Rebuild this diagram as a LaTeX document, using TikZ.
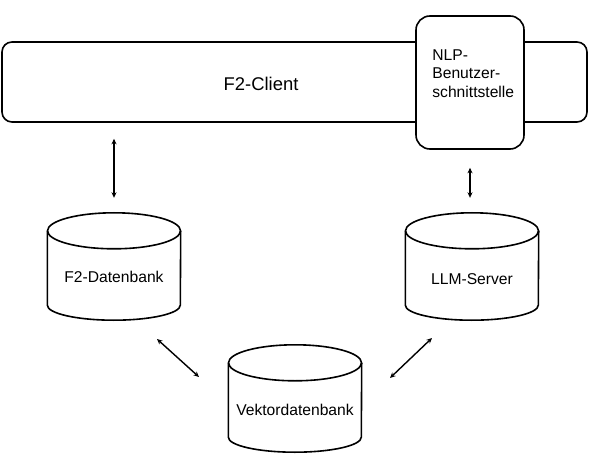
\documentclass[tikz,border=0pt]{standalone}
\usepackage{fontspec}
\setmainfont{Liberation Sans}
\usetikzlibrary{arrows.meta, positioning, calc}

\begin{document}
\begin{tikzpicture}[
    x=1bp, y=-1bp,
    every node/.style={font=\fontsize{15.7}{18.5}\selectfont},
    box/.style={draw, line width=1.6bp, fill=white},
    dbase/.style={minimum width=133bp, minimum height=107bp, inner sep=0pt},
    cyl/.style={line width=1.6bp},
    biarrow/.style={{Stealth[length=5.5bp,width=5bp]}-{Stealth[length=5.5bp,width=5bp]}, line width=1.4bp}
]
\useasboundingbox (0,0) rectangle (592,457);

% === NODES ===

% Client bar with the NLP box on top of it
\node[box, rounded corners=10bp, minimum width=585bp, minimum height=80bp,
      label={[font=\fontsize{18.5}{22}\selectfont, xshift=-33.5bp, yshift=-1.5bp]center:F2-Client}]
      (client) at (294.5,82) {};
\node[box, rounded corners=14bp, minimum width=108bp, minimum height=133bp,
      label={[anchor=north west, align=left, inner sep=0pt, xshift=17bp, yshift=-34bp]north west:NLP-\\Benutzer-\\schnittstelle}]
      (nlp) at (470,82.5) {};

% Databases
\node[dbase, label={[yshift=-10bp]center:F2-Datenbank}] (f2db) at (114,266.5) {};
\node[dbase, label={[yshift=-13bp]center:LLM-Server}] (llm) at (472,266.5) {};
\node[dbase, label={[yshift=-11bp]center:Vektordatenbank}] (vdb) at (295,398.5) {};

% cylinder outlines
\foreach \n in {f2db, llm, vdb} {
  \draw[cyl] ($(\n.north west)+(0,18)$) -- ($(\n.south west)+(0,-15)$)
    arc[start angle=180, end angle=0, x radius=66.5, y radius=15]
    -- ($(\n.north east)+(0,18)$);
  \draw[cyl] ($(\n.north)+(0,18)$) ellipse[x radius=66.5, y radius=18];
}

% === CONNECTIONS ===

% client <-> F2-Datenbank
\draw[biarrow, shorten <=16bp, shorten >=15bp] (client.south -| f2db.north) -- (f2db.north);

% NLP <-> LLM-Server
\draw[biarrow, shorten <=18bp, shorten >=15bp] (nlp.south) -- (nlp.south |- llm.north);

% both databases <-> Vektordatenbank
\draw[biarrow] ($(f2db.center)+(43,72.5)$) -- ($(vdb.center)+(-96,-21.5)$);
\draw[biarrow] ($(llm.center)+(-40,71.5)$) -- ($(vdb.center)+(95,-20.5)$);

\end{tikzpicture}
\end{document}
